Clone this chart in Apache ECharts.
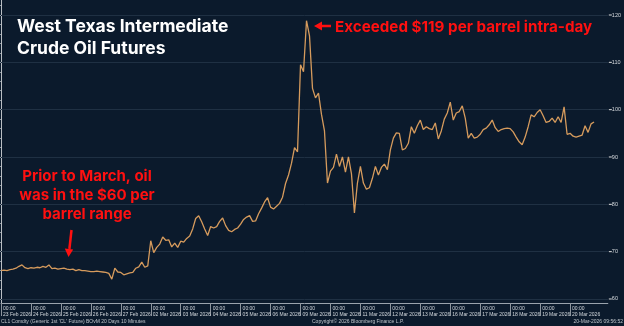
<!DOCTYPE html>
<html>
<head>
<meta charset="utf-8">
<script src="https://cdn.jsdelivr.net/npm/echarts@6/dist/echarts.min.js"></script>
<style>
html,body{margin:0;padding:0;background:#0b1a2c;}
#chart{width:624px;height:326px;}
</style>
</head>
<body>
<div id="chart"></div>
<script>
// Trading-day labels on the x axis (each tick sits at 00:00 of the day)
const dayLabels = ['23 Feb 2026','24 Feb 2026','25 Feb 2026','26 Feb 2026','27 Feb 2026',
  '02 Mar 2026','03 Mar 2026','04 Mar 2026','05 Mar 2026','06 Mar 2026',
  '09 Mar 2026','10 Mar 2026','11 Mar 2026','12 Mar 2026','13 Mar 2026',
  '16 Mar 2026','17 Mar 2026','18 Mar 2026','19 Mar 2026','20 Mar 2026'];
// Samples per trading day
const pointsPerDay = 10;
// CL1 price ($/bbl), sampled through each trading day
const prices = [
  66.0, 66.1, 66.0, 66.2, 66.3, 66.5, 66.9, 67.2, 66.6, 66.4,
  66.6, 66.5, 66.7, 66.6, 66.9, 66.7, 67.2, 66.4, 66.5, 66.3,
  66.4, 66.5, 66.3, 66.2, 66.3, 66.0, 66.2, 66.0, 66.0, 65.9,
  65.8, 65.8, 65.9, 65.8, 65.7, 65.6, 65.4, 64.2, 66.5, 65.7,
  65.6, 65.1, 65.3, 65.5, 65.6, 66.5, 66.8, 67.8, 66.7, 67.0,
  72.3, 69.8, 70.9, 71.6, 73.1, 72.4, 72.5, 71.0, 71.8, 70.9,
  72.2, 72.0, 72.8, 73.3, 74.8, 77.0, 77.6, 76.3, 74.8, 73.4,
  75.3, 75.0, 75.3, 76.4, 77.1, 75.5, 74.5, 74.2, 74.7, 75.0,
  75.8, 76.8, 77.3, 77.6, 76.4, 76.5, 78.0, 79.2, 80.5, 81.4,
  79.4, 79.0, 79.6, 80.2, 81.5, 84.4, 86.2, 88.7, 92.0, 91.1,
  109.5, 108.0, 118.8, 115.6, 104.5, 102.5, 103.5, 99.0, 95.5, 84.5,
  87.0, 87.8, 90.6, 88.0, 90.0, 86.8, 90.0, 86.5, 78.2, 84.5,
  88.0, 84.5, 83.2, 83.5, 85.5, 88.0, 86.2, 87.8, 88.5, 87.3,
  91.5, 94.0, 95.1, 95.0, 91.5, 91.8, 92.9, 96.4, 95.0, 96.6,
  97.8, 95.8, 96.4, 96.0, 95.8, 97.2, 93.8, 95.5, 98.0, 99.3,
  101.6, 97.8, 99.3, 99.6, 100.8, 98.2, 94.0, 95.0, 94.0, 94.2,
  94.8, 95.8, 96.1, 96.8, 97.8, 96.2, 95.4, 95.8, 96.0, 96.1,
  96.0, 95.3, 94.2, 93.2, 92.6, 94.2, 96.4, 98.9, 98.5, 99.4,
  100.0, 98.7, 97.3, 97.5, 98.2, 97.3, 98.5, 97.3, 100.6, 94.8,
  95.0, 94.4, 94.2, 94.4, 94.6, 96.6, 95.2, 97.0, 97.4
];
// Right-axis labelled values and minor tick values
const yLabels = [60, 70, 80, 90, 100, 110, 120];
const yMinorTicks = [60,62,64,66,68,70,72,74,76,78,80,82,84,86,88,90,92,94,96,98,100,102,104,106,108,110,112,114,116,118,120,122];

const dayIdx = dayLabels.map((d, i) => i);
const seriesData = prices.map((v, i) => [i / pointsPerDay, v]);

const chart = echarts.init(document.getElementById('chart'), null, {renderer: 'canvas'});
const smallFont = "'Liberation Sans Narrow','Liberation Sans',sans-serif";
const option = {
  backgroundColor: '#0b1a2c',
  animation: false,
  grid: {left: 0, right: 11, top: 0, bottom: 23},
  xAxis: {
    type: 'value', min: 0, max: 20.26,
    splitLine: {show: false},
    axisLine: {show: true, lineStyle: {color: '#9aa3ad', width: 1}},
    axisTick: {show: true, customValues: dayIdx, length: 13, lineStyle: {color: '#8d959e'}},
    axisLabel: {
      show: true, customValues: dayIdx, align: 'left', margin: 3,
      showMinLabel: true,
      padding: [0, 0, 0, 2],
      fontSize: 5, fontFamily: smallFont, color: '#d3d8dd',
      formatter: v => '{t|00:00}\n{t|' + dayLabels[Math.round(v)] + '}',
      rich: {t: {fontSize: 5, lineHeight: 6, fontFamily: smallFont, color: '#d3d8dd'}}
    }
  },
  yAxis: {
    type: 'value', position: 'right', min: 59.15, max: 123.17,
    splitLine: {show: false},
    axisLine: {show: true, lineStyle: {color: '#b9bec4', width: 1}},
    axisTick: {show: true, inside: true, length: 2, customValues: yMinorTicks, lineStyle: {color: '#8d959e'}},
    axisLabel: {
      show: true, customValues: yLabels, margin: 1,
      showMinLabel: true, showMaxLabel: true,
      fontSize: 5.5, fontFamily: smallFont, color: '#d6dade',
      formatter: v => '{m|}' + v,
      rich: {m: {width: 3, height: 1, backgroundColor: '#e0e0e0', padding: 0}}
    }
  },
  series: [{
    type: 'line',
    data: seriesData,
    showSymbol: false,
    z: 3,
    lineStyle: {color: '#d69b5d', width: 1.3},
    markLine: {
      silent: true, symbol: 'none', z: 1,
      label: {show: false},
      lineStyle: {color: '#1f3043', type: 'solid', width: 1},
      data: yLabels.map(v => ({yAxis: v}))
    }
  }],
  graphic: [
    {type: 'text', left: 17, top: 16, z: 10, style: {
      text: 'West Texas Intermediate\nCrude Oil Futures',
      font: "bold 17.5px Inter, 'Open Sans', sans-serif", fill: '#ffffff', lineHeight: 22}},
    {type: 'text', x: 335, y: 27, z: 10, style: {
      text: 'Exceeded $119 per barrel intra-day', textVerticalAlign: 'middle',
      font: "bold 15.2px Inter, 'Open Sans', sans-serif", fill: '#ff1010'}},
    {type: 'line', z: 10, shape: {x1: 331, y1: 26, x2: 320, y2: 26}, style: {stroke: '#ff1010', lineWidth: 2.5}},
    {type: 'polygon', z: 10, shape: {points: [[314, 26], [322, 21.5], [322, 30.5]]}, style: {fill: '#ff1010'}},
    {type: 'text', x: 87, y: 195, z: 10, style: {
      text: 'Prior to March, oil\nwas in the $60 per\nbarrel range',
      textAlign: 'center', textVerticalAlign: 'middle', lineHeight: 19,
      font: "bold 15px Inter, 'Open Sans', sans-serif", fill: '#ff1010'}},
    {type: 'line', z: 10, shape: {x1: 71.5, y1: 230, x2: 69.4, y2: 249}, style: {stroke: '#ff1010', lineWidth: 2.5}},
    {type: 'polygon', z: 10, shape: {points: [[68.5, 257], [64.8, 248.5], [73.2, 249.4]]}, style: {fill: '#ff1010'}},
    {type: 'text', x: 1, y: 322, z: 10, style: {
      text: "CL1 Comdty (Generic 1st 'CL' Future) BOvM 20 Days 10 Minutes", textVerticalAlign: 'middle',
      font: '5px ' + smallFont, fill: '#bfc5cb'}},
    {type: 'text', x: 312, y: 322, z: 10, style: {
      text: 'Copyright\u00a9 2026 Bloomberg Finance L.P.', textVerticalAlign: 'middle',
      font: '5px ' + smallFont, fill: '#bfc5cb'}},
    {type: 'text', x: 623, y: 322, z: 10, style: {
      text: '20-Mar-2026 09:56:52', textAlign: 'right', textVerticalAlign: 'middle',
      font: '5px ' + smallFont, fill: '#bfc5cb'}}
  ]
};
chart.setOption(option);
</script>
</body>
</html>
